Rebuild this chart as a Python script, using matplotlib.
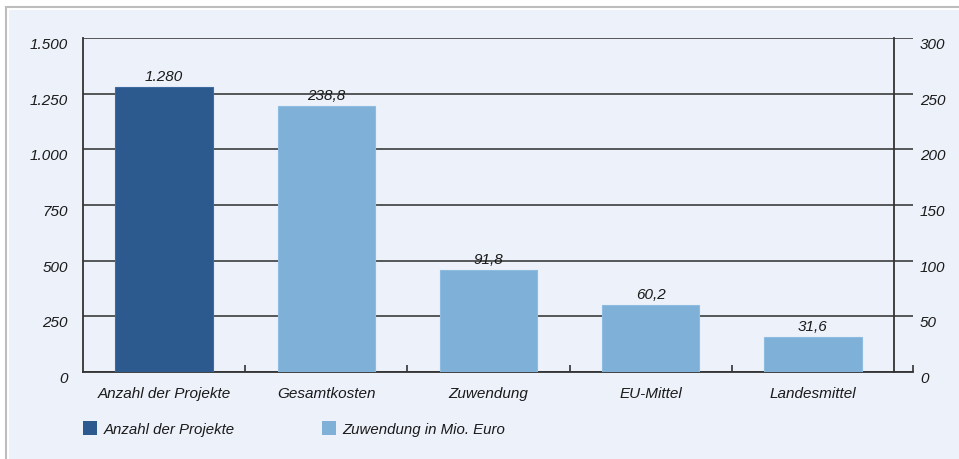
import matplotlib
matplotlib.use("Agg")
import matplotlib.pyplot as plt
from matplotlib.patches import Patch, Rectangle
from matplotlib.lines import Line2D

# ---- data ----
categories = ["Anzahl der Projekte", "Gesamtkosten", "Zuwendung", "EU-Mittel", "Landesmittel"]
projects_count = [1280]                      # left axis
euro_values = [238.8, 91.8, 60.2, 31.6]      # right axis (Mio. Euro)
count_label = ["1.280"]
euro_labels = ["238,8", "91,8", "60,2", "31,6"]
left_ticks = [0, 250, 500, 750, 1000, 1250, 1500]
left_ticklabels = ["0", "250", "500", "750", "1.000", "1.250", "1.500"]
right_ticks = [0, 50, 100, 150, 200, 250, 300]
right_ticklabels = ["0", "50", "100", "150", "200", "250", "300"]
legend_labels = ["Anzahl der Projekte", "Zuwendung in Mio. Euro"]

dark = "#2C5A8F"
light = "#7EB0D8"
panel = "#EDF1FA"
grid_c = "#4a4a4a"
font = "Liberation Sans"
txt_c = "#1a1a1a"

W, H = 959, 459
fig = plt.figure(figsize=(W / 100, H / 100), dpi=100, facecolor="white")

# background panel and gray frame lines
fig.patches.append(Rectangle((9 / W, 0), 1 - 9 / W, 1 - 10 / H, transform=fig.transFigure,
                             facecolor=panel, edgecolor="none", zorder=-10))
fig.add_artist(Line2D([6 / W, 1], [1 - 7 / H, 1 - 7 / H], transform=fig.transFigure,
                      color="#bdbdbd", lw=1.5))
fig.add_artist(Line2D([6 / W, 6 / W], [0, 1 - 7 / H], transform=fig.transFigure,
                      color="#bdbdbd", lw=1.5))

x0, x1 = 83, 913
y0, y1 = 372, 38
ax = fig.add_axes([x0 / W, 1 - y0 / H, (x1 - x0) / W, (y0 - y1) / H])
ax.patch.set_visible(False)
slot = (894 - 83)
xmax = -0.5 + 5 * (x1 - x0) / slot
ax.set_xlim(-0.5, xmax)
ax.set_ylim(0, 1500)

ax2 = ax.twinx()
ax2.set_ylim(0, 300)
ax2.patch.set_visible(False)
for s in ax2.spines.values():
    s.set_visible(False)

xs = list(range(len(categories)))
bw = 0.6
ax.bar(xs[:1], projects_count, width=bw, color=dark, edgecolor="#3d6aa0", lw=0.8, zorder=3)
ax2.bar(xs[1:], euro_values, width=bw, color=light, edgecolor="#8dbce0", lw=0.8, zorder=3)

tfont = dict(family=font, style="italic", size=11, color=txt_c)
for x, v, lab in zip(xs[:1], projects_count, count_label):
    ax.text(x, v + 1500 * 3 / 334, lab, ha="center", va="bottom", **tfont)
for x, v, lab in zip(xs[1:], euro_values, euro_labels):
    ax2.text(x, v + 300 * 3 / 334, lab, ha="center", va="bottom", **tfont)

# grid / ticks
ax.set_axisbelow(True)
ax.tick_params(axis="y", length=0, pad=11)
ax.set_yticks(left_ticks)
ax.set_yticklabels(left_ticklabels)
ax.yaxis.grid(True, color=grid_c, lw=1.3)

ax2.tick_params(axis="y", length=0, pad=5)
ax2.set_yticks(right_ticks)
ax2.set_yticklabels(right_ticklabels)

# spines
ax.spines["top"].set_visible(False)
ax.spines["right"].set_position(("data", 4.5))
for k in ["left", "right", "bottom"]:
    ax.spines[k].set_color("#333333")
    ax.spines[k].set_linewidth(1.3)

# x ticks
ax.tick_params(axis="x", which="major", length=0, pad=11)
ax.set_xticks(xs)
ax.set_xticklabels(categories)
ax.set_xticks([0.5, 1.5, 2.5, 3.5, xmax], minor=True)
ax.tick_params(axis="x", which="minor", direction="in", length=5, width=1.2, color="#333333")

for lbl in ax.get_yticklabels() + ax2.get_yticklabels() + ax.get_xticklabels():
    lbl.set_fontfamily(font)
    lbl.set_fontstyle("italic")
    lbl.set_fontsize(11)
    lbl.set_color(txt_c)
for lbl in ax.get_yticklabels() + ax2.get_yticklabels():
    lbl.set_verticalalignment("top")

# legend
handles = [Patch(facecolor=dark, edgecolor="none"), Patch(facecolor=light, edgecolor="none")]
fig.legend(handles, legend_labels, loc="center left", bbox_to_anchor=(83 / W, 1 - 429 / H),
           ncol=2, frameon=False, borderpad=0, borderaxespad=0, handlelength=0.95,
           handleheight=1.05, handletextpad=0.42, columnspacing=5.8,
           prop=dict(family=font, style="italic", size=10.8))
for t in fig.legends[0].get_texts():
    t.set_color(txt_c)

fig.savefig("out.png", dpi=100, facecolor="white")
